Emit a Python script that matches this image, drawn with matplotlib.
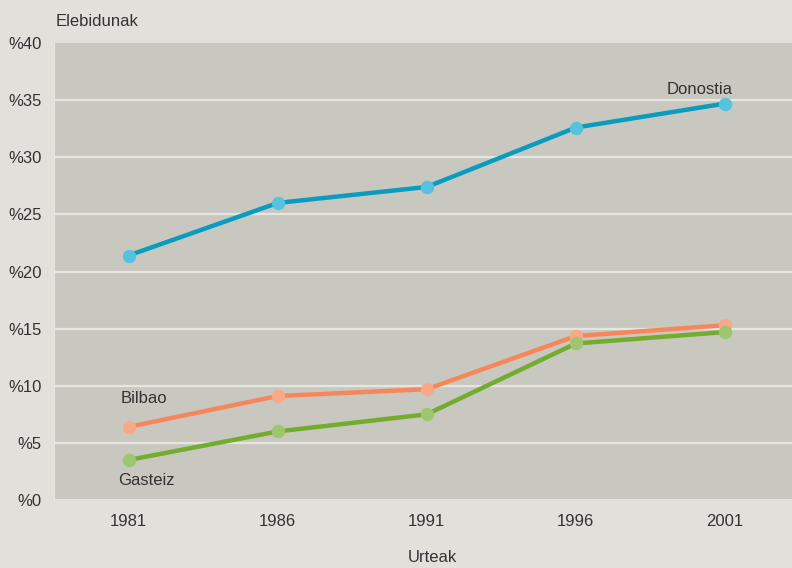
import matplotlib
matplotlib.use("Agg")
from matplotlib import pyplot as plt

years = ["1981", "1986", "1991", "1996", "2001"]
donostia = [21.4, 26.0, 27.4, 32.6, 34.7]
bilbao = [6.4, 9.1, 9.7, 14.35, 15.3]
gasteiz = [3.5, 6.0, 7.5, 13.7, 14.7]
yticks = [0, 5, 10, 15, 20, 25, 30, 35, 40]

plt.rcParams['font.family'] = ['Liberation Sans Narrow', 'Liberation Sans', 'DejaVu Sans']

BG = '#e1e0db'
PLOT_BG = '#c8c8c0'
GRID = '#e6e6e1'
TXT = '#333333'
FS = 12

fig = plt.figure(figsize=(7.92, 5.68), dpi=100, facecolor=BG)
ax = fig.add_axes([0.0682, 0.1197, 0.9318, 0.8046])
ax.set_facecolor(PLOT_BG)

x = list(range(len(years)))
series = [
    (donostia, '#0a9cbf', '#55c3de'),
    (bilbao, '#f7875a', '#f9a888'),
    (gasteiz, '#74ac2e', '#9dc66e'),
]
for vals, col, mcol in series:
    ax.plot(x, vals, color=col, lw=3.2, zorder=3, solid_capstyle='round')
    ax.scatter(x, vals, s=75, color=mcol, edgecolors=mcol, zorder=4)

ax.set_xlim(-0.5, 4.45)
ax.set_ylim(0, 40)
ax.set_yticks(yticks)
ax.set_yticklabels(["%" + str(v) for v in yticks])
ax.set_xticks(x)
ax.set_xticklabels(years)
for v in yticks[1:-1]:
    ax.axhline(v, color=GRID, lw=1.6, zorder=1)
ax.axhline(0, color=GRID, lw=2, zorder=1)

for s in ax.spines.values():
    s.set_visible(False)
ax.spines['left'].set_visible(True)
ax.spines['left'].set_color(GRID)
ax.tick_params(length=0, labelsize=FS, colors=TXT)
ax.tick_params(axis='y', pad=9)
ax.tick_params(axis='x', pad=10)

ax.text(3.83, 35.3, "Donostia", fontsize=FS, color=TXT, ha='center', va='bottom')
ax.text(0.1, 8.9, "Bilbao", fontsize=FS, color=TXT, ha='center', va='center')
ax.text(0.12, 1.7, "Gasteiz", fontsize=FS, color=TXT, ha='center', va='center')

fig.text(56 / 792, 1 - 22 / 568, "Elebidunak", fontsize=FS, color=TXT, ha='left', va='center')
fig.text(432 / 792, 1 - 558 / 568, "Urteak", fontsize=FS, color=TXT, ha='center', va='center')

fig.savefig("out.png", dpi=100, facecolor=BG)
